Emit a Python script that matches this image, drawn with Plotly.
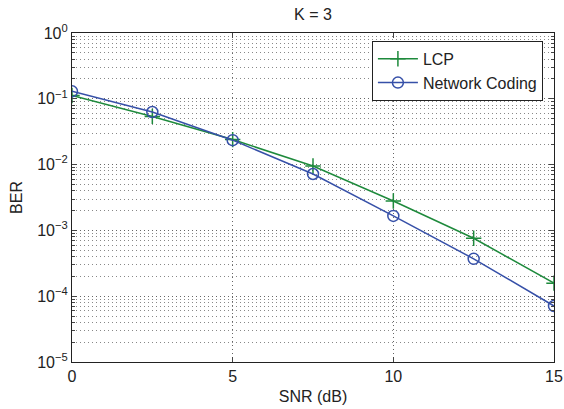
import plotly.graph_objects as go

snr = [0, 2.5, 5, 7.5, 10, 12.5, 15]
ber_lcp = [0.112, 0.054, 0.024, 0.0095, 0.0028, 0.00076, 0.000158]
ber_nc = [0.13, 0.063, 0.0235, 0.0072, 0.00166, 0.00037, 0.000071]

ytick_vals = [1, 0.1, 0.01, 0.001, 0.0001, 0.00001]
ytick_text = ["10<sup>0</sup>", "10<sup>−1</sup>", "10<sup>−2</sup>", "10<sup>−3</sup>",
              "10<sup>−4</sup>", "10<sup>−5</sup>"]
xtick_vals = [0, 5, 10, 15]

minor_y = [m * 10.0 ** e for e in range(-5, 0) for m in range(2, 10)]

green = "#1e8a3c"
blue = "#3650a8"

fig = go.Figure()
fig.add_trace(go.Scatter(x=snr, y=ber_lcp, mode="lines+markers", name="LCP",
                         line=dict(color=green, width=1.5),
                         marker=dict(symbol="cross-thin", size=11,
                                     line=dict(color=green, width=1.5))))
fig.add_trace(go.Scatter(x=snr, y=ber_nc, mode="lines+markers", name="Network Coding",
                         line=dict(color=blue, width=1.5),
                         marker=dict(symbol="circle-open", size=11,
                                     line=dict(color=blue, width=1.5))))

font = "Liberation Sans, Arial, Helvetica, sans-serif"
fig.update_layout(
    width=564, height=409,
    margin=dict(l=72, r=10, t=33, b=47, autoexpand=False),
    paper_bgcolor="white", plot_bgcolor="white",
    font=dict(family=font, size=16, color="#222"),
    title=dict(text="K = 3", xref="paper", x=0.5, xanchor="center",
               yref="container", y=0.965, yanchor="middle", font=dict(size=16)),
    legend=dict(x=0.977, y=0.976, xanchor="right", yanchor="top",
                bordercolor="#222", borderwidth=1, bgcolor="white",
                font=dict(size=16), tracegroupgap=0, itemwidth=40),
    showlegend=True,
)
fig.update_xaxes(range=[0, 15], tickvals=xtick_vals, ticks="inside", ticklen=5,
                 showline=True, linecolor="#222", linewidth=1.2, mirror="allticks",
                 showgrid=True, gridcolor="#666", griddash="1px,3px", gridwidth=1,
                 zeroline=False, tickfont=dict(size=16),
                 title=dict(text="SNR (dB)", font=dict(size=16), standoff=6))
fig.update_yaxes(type="log", range=[-5, 0], tickvals=ytick_vals, ticktext=ytick_text,
                 ticks="inside", ticklen=5,
                 showline=True, linecolor="#222", linewidth=1.2, mirror="allticks",
                 showgrid=True, gridcolor="#666", griddash="1px,3px", gridwidth=1,
                 zeroline=False, tickfont=dict(size=16),
                 minor=dict(tickvals=minor_y, ticks="inside", ticklen=3,
                            showgrid=True, gridcolor="#888", griddash="1px,3px", gridwidth=1),
                 title=dict(text="BER", font=dict(size=16), standoff=10))

fig.write_html("out.html", config={"displayModeBar": False},
               post_script="document.body.style.margin='0';document.body.style.overflow='hidden';")
